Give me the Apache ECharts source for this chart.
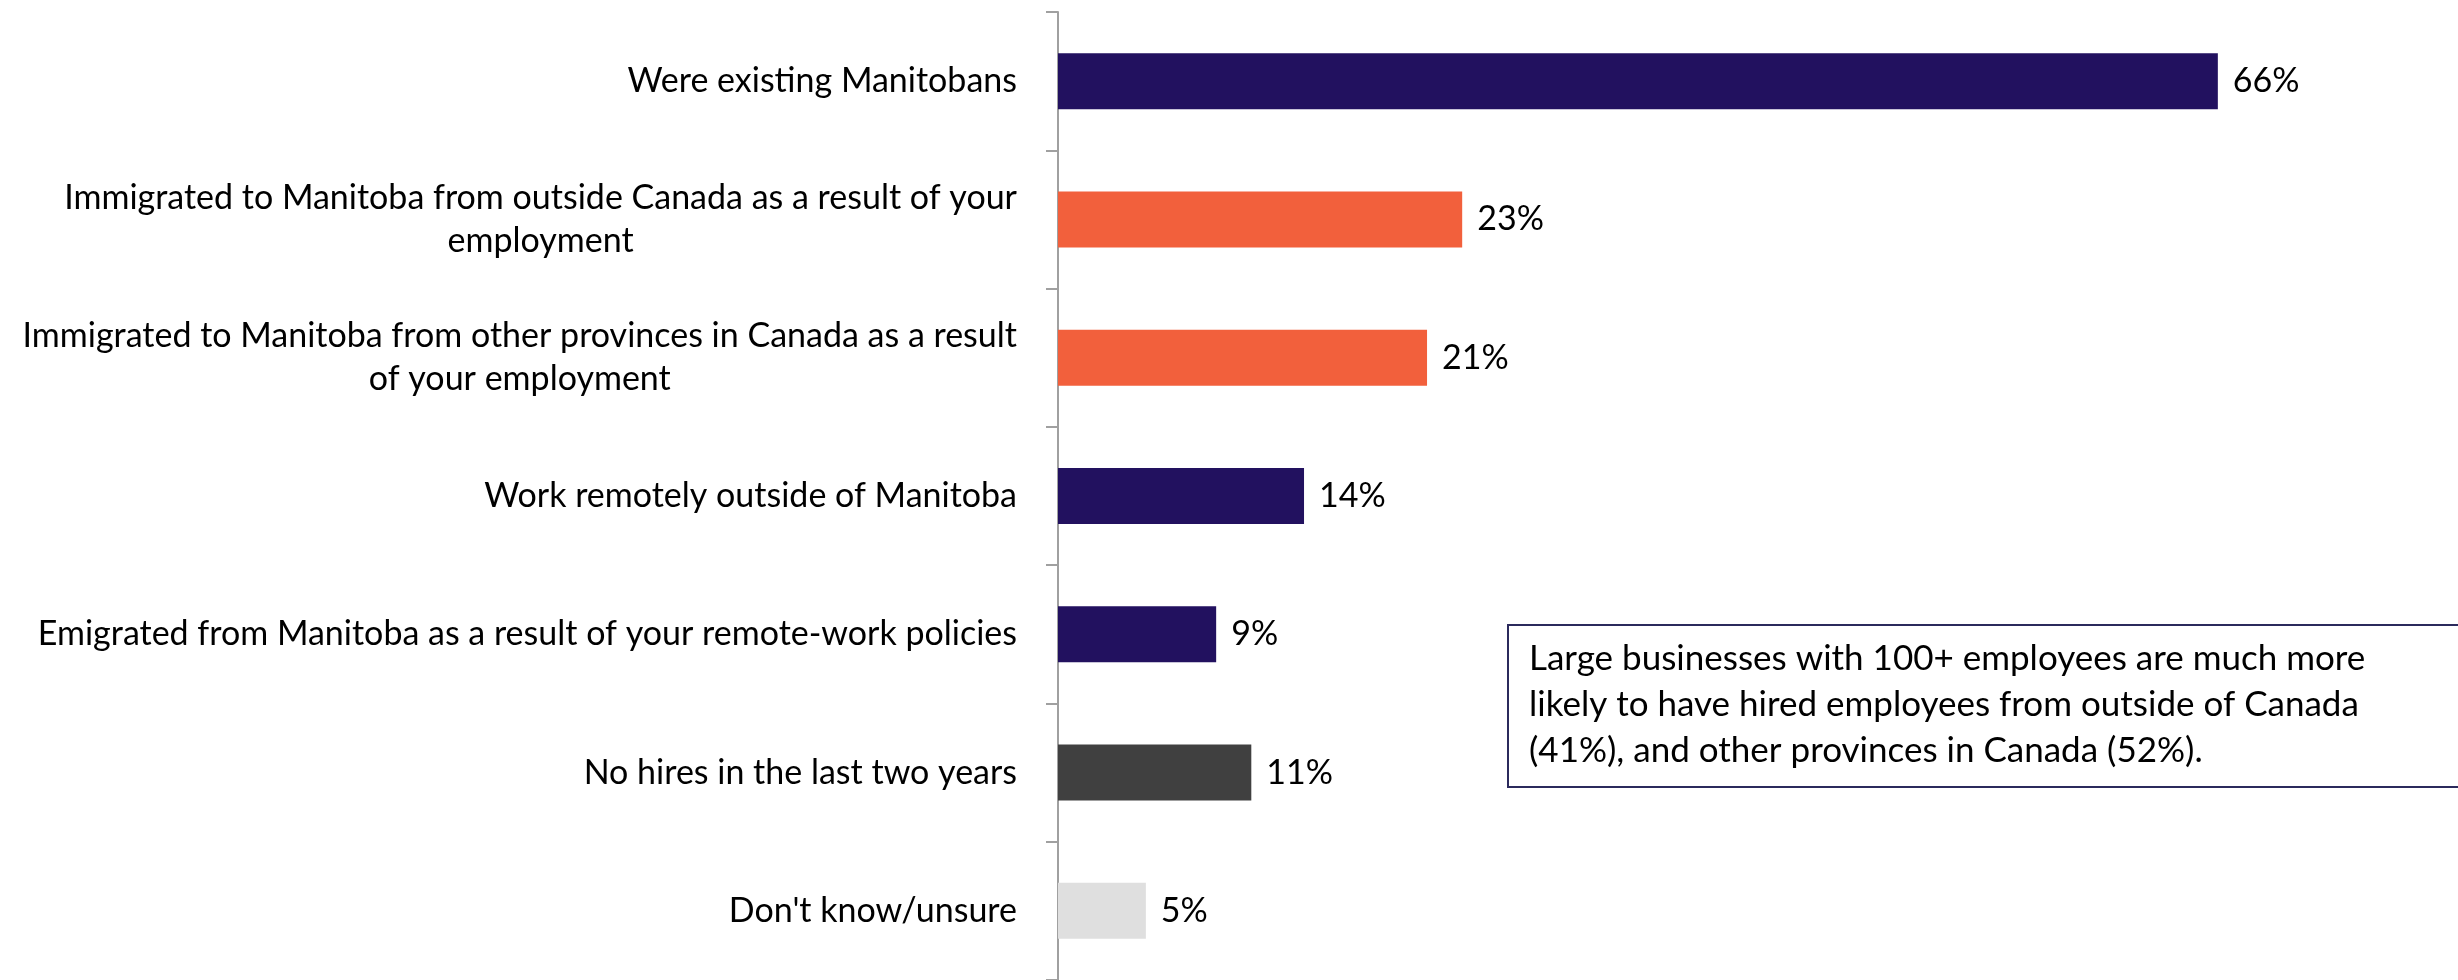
<!DOCTYPE html>
<html>
<head>
<meta charset="utf-8">
<script src="https://cdn.jsdelivr.net/npm/echarts@6/dist/echarts.min.js"></script>
<style>
  html, body { margin: 0; padding: 0; background: #ffffff; }
  #chart { width: 2458px; height: 980px; }
</style>
</head>
<body>
<div id="chart"></div>
<script>
// Survey responses: where recent hires came from
const categories = [
  'Were existing Manitobans',
  'Immigrated to Manitoba from outside Canada as a result of your\nemployment',
  'Immigrated to Manitoba from other provinces in Canada as a result\nof your employment',
  'Work remotely outside of Manitoba',
  'Emigrated from Manitoba as a result of your remote-work policies',
  'No hires in the last two years',
  "Don't know/unsure"
];
const values = [66, 23, 21, 14, 9, 11, 5];
const barColors = ['#22115F', '#F2603C', '#F2603C', '#22115F', '#22115F', '#404040', '#DFDFDF'];
const noteText = 'Large businesses with 100+ employees are much more\nlikely to have hired employees from outside of Canada\n(41%), and other provinces in Canada (52%).';

const FONT = 'Lato, "Open Sans", sans-serif';

const chart = echarts.init(document.getElementById('chart'), null, { renderer: 'canvas' });

chart.setOption({
  animation: false,
  backgroundColor: '#ffffff',
  grid: { left: 1058, top: 12, width: 1318, height: 973, containLabel: false },
  xAxis: {
    type: 'value',
    min: 0,
    max: 75,
    show: false
  },
  yAxis: {
    type: 'category',
    inverse: true,
    data: categories,
    axisLine: { show: true, lineStyle: { color: '#A0A0A0', width: 2 } },
    axisTick: { show: true, length: 12, inside: false, lineStyle: { color: '#A0A0A0', width: 2 } },
    splitLine: { show: false },
    axisLabel: {
      margin: 41,
      align: 'right',
      color: '#000000',
      fontFamily: FONT,
      fontSize: 34,
      formatter: function (v) {
        return v.split('\n').map(function (l) { return '{c|' + l + '}'; }).join('\n');
      },
      rich: {
        c: { align: 'center', fontFamily: FONT, fontSize: 34, lineHeight: 43, color: '#000000' }
      }
    }
  },
  series: [{
    type: 'bar',
    barWidth: 56,
    data: values.map(function (v, i) {
      return { value: v, itemStyle: { color: barColors[i] } };
    }),
    label: {
      show: true,
      position: 'right',
      distance: 15,
      formatter: '{c}%',
      color: '#000000',
      fontFamily: FONT,
      fontSize: 34
    }
  }],
  graphic: [
    {
      type: 'rect',
      shape: { x: 1508, y: 625, width: 1000, height: 162 },
      style: { fill: '#ffffff', stroke: '#2B2A5C', lineWidth: 2 },
      z: 10
    },
    {
      type: 'text',
      x: 1529,
      y: 636,
      style: {
        text: noteText,
        fontFamily: FONT,
        fontSize: 35,
        lineHeight: 46,
        fill: '#000000',
        align: 'left',
        verticalAlign: 'top'
      },
      z: 11
    }
  ]
});
</script>
</body>
</html>
